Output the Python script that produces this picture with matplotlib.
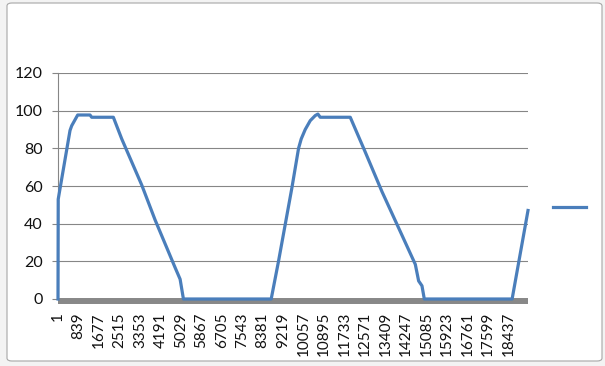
import matplotlib
matplotlib.use("Agg")
import matplotlib.pyplot as plt
from matplotlib.patches import FancyBboxPatch

# ---- data ----
sample_index = [1, 10, 493, 562, 807, 1312, 1380, 2267, 2610, 3429, 3975, 4794,
                5000, 5135, 8728, 9027, 9575, 9848, 9957, 10121, 10326, 10531,
                10640, 10735, 11964, 12579, 13263, 13946, 14627, 14763, 14900,
                14995, 18590, 19240]
values = [0, 53, 89.5, 92, 97.7, 97.7, 96.5, 96.5, 85, 60.5, 42, 16.7,
          10.5, 0, 0, 20, 59, 80, 85, 90, 94.7, 97.4,
          98.2, 96.5, 96.5, 78, 57, 37.7, 18.4, 9.6, 7,
          0, 0, 47]
x_tick_labels = ["1", "839", "1677", "2515", "3353", "4191", "5029", "5867",
                 "6705", "7543", "8381", "9219", "10057", "10895", "11733",
                 "12571", "13409", "14247", "15085", "15923", "16761", "17599",
                 "18437"]
y_ticks = [0, 20, 40, 60, 80, 100, 120]
n_points = 19240

plt.rcParams['font.family'] = ['Lato', 'DejaVu Sans']

W, H = 605, 366
fig = plt.figure(figsize=(W / 100, H / 100), dpi=100)
fig.patch.set_facecolor('#f3f3f3')

# chart area (white box of the Excel chart)
chart_box = FancyBboxPatch((7 / W, 1 - 361 / H), (602 - 7) / W, (361 - 3) / H,
                           boxstyle="round,pad=0,rounding_size=0.008",
                           transform=fig.transFigure, facecolor='white',
                           edgecolor='#a6a6a6', linewidth=0.8, zorder=-10)
fig.patches.append(chart_box)

ax = fig.add_axes([58 / W, (H - 299) / H, 470 / W, 226 / H])
ax.set_zorder(1)
ax.set_facecolor('none')

line, = ax.plot(sample_index, values, color='#4a7ebb', linewidth=2.3,
                solid_joinstyle='round', zorder=4, clip_on=False)

ax.set_xlim(1, n_points)
ax.set_ylim(0, 120)
ax.set_yticks(y_ticks)
ax.set_yticklabels([str(v) for v in y_ticks])
ax.yaxis.grid(True, color='#868686', linewidth=0.8)
ax.set_axisbelow(True)

ax.set_xticks([int(t) for t in x_tick_labels])
ax.set_xticklabels(x_tick_labels)

for s in ('top', 'right'):
    ax.spines[s].set_visible(False)
ax.spines['left'].set_color('#868686')
ax.spines['left'].set_linewidth(0.8)
ax.spines['bottom'].set_color('#888888')
ax.spines['bottom'].set_linewidth(4.3)
ax.spines['bottom'].set_position(('outward', 1.4))
ax.spines['bottom'].set_capstyle('butt')

ax.tick_params(axis='y', direction='out', length=4.5, width=0.8,
               color='#868686', pad=6.5, labelsize=11.5, labelcolor='#111111')
ax.tick_params(axis='x', length=0, pad=8, labelsize=11, labelcolor='#111111',
               labelrotation=90)
for lbl in ax.get_xticklabels():
    lbl.set_verticalalignment('top')
    lbl.set_horizontalalignment('center')
    lbl.set_rotation_mode('default')

fig.legend(handles=[line], labels=[''], loc='center left',
           bbox_to_anchor=(553 / W, 1 - 208 / H), frameon=False,
           borderpad=0, borderaxespad=0, handlelength=2.4, handletextpad=0,
           fontsize=10)

fig.savefig('out.png', dpi=100, facecolor=fig.get_facecolor())
